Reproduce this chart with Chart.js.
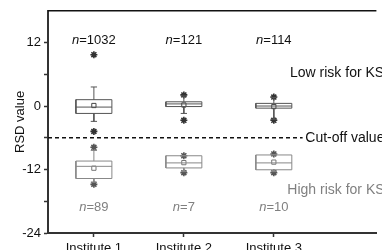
<!DOCTYPE html>
<html>
<head>
<meta charset="utf-8">
<script src="https://cdn.jsdelivr.net/npm/chart.js@4.4.1/dist/chart.umd.min.js"></script>
<style>
  html, body { margin: 0; padding: 0; background: #fff; overflow: hidden; }
  #wrap { width: 382px; height: 250px; }
</style>
</head>
<body>
<div id="wrap"><canvas id="c" width="382" height="250"></canvas></div>
<script>
const institutes = ['Institute 1', 'Institute 2', 'Institute 3'];
const yTicks = [-24, -18, -12, -6, 0, 6, 12];
const cutOff = -6;

// low risk group (above cut-off)
const lowWhiskerLo = [-2.9, -1.4, -2.5];
const lowQ1 = [-1.4, -0.1, -0.4];
const lowMedian = [-0.2, 0.4, 0];
const lowQ3 = [1.2, 0.8, 0.5];
const lowWhiskerHi = [3.6, 1.9, 1.6];
const lowMean = [0.1, 0.2, -0.1];
const lowOutliers = [[9.7, -4.8], [2.1, -2.7], [1.7, -2.7]];
const lowN = ['1032', '121', '114'];

// high risk group (below cut-off)
const highWhiskerLo = [-14.4, -12.4, -12.4];
const highQ1 = [-13.7, -11.7, -12.05];
const highMedian = [-11.4, -10.75, -10.75];
const highQ3 = [-10.4, -9.4, -9.25];
const highWhiskerHi = [-8.4, -9.4, -9.2];
const highMean = [-11.75, -10.7, -10.6];
const highOutliers = [[-7.8, -14.8], [-9.4, -12.6], [-9.06, -12.6]];
const highN = ['89', '7', '10'];

const FONT = 'Liberation Sans, Arial, sans-serif';
const HW = 0.2;   // half box width (x units)
const CW = 0.035; // half cap width

function boxSegments(lo, q1, med, q3, hi) {
  const pts = [];
  const gap = (x) => pts.push({ x: x, y: null });
  institutes.forEach((name, i) => {
    const x = i + 1;
    pts.push({ x: x - HW, y: q1[i] }, { x: x + HW, y: q1[i] }, { x: x + HW, y: q3[i] },
      { x: x - HW, y: q3[i] }, { x: x - HW, y: q1[i] });
    gap(x);
    pts.push({ x: x - HW, y: med[i] }, { x: x + HW, y: med[i] });
    gap(x);
    pts.push({ x: x, y: q3[i] }, { x: x, y: hi[i] });
    gap(x);
    pts.push({ x: x - CW, y: hi[i] }, { x: x + CW, y: hi[i] });
    gap(x);
    pts.push({ x: x, y: q1[i] }, { x: x, y: lo[i] });
    gap(x);
    pts.push({ x: x - CW, y: lo[i] }, { x: x + CW, y: lo[i] });
    gap(x);
  });
  return pts;
}

function outlierPoints(list) {
  const pts = [];
  list.forEach((vals, i) => vals.forEach(v => pts.push({ x: i + 1, y: v })));
  return pts;
}

function meanPoints(vals) {
  return vals.map((v, i) => ({ x: i + 1, y: v }));
}

const lineDs = (data, color) => ({
  type: 'scatter', data, showLine: true, spanGaps: false,
  borderColor: color, borderWidth: 1, pointRadius: 0, fill: false
});
const starDs = (data, color) => ({
  type: 'scatter', data, pointStyle: 'star', pointRadius: 3.5,
  borderColor: color, backgroundColor: color, borderWidth: 1.6
});
const meanDs = (data, color) => ({
  type: 'scatter', data, pointStyle: 'rect', pointRadius: 3,
  borderColor: color, backgroundColor: '#fff', borderWidth: 1
});

const textPlugin = {
  id: 'texts',
  afterDatasetsDraw(chart) {
    const ctx = chart.ctx;
    const xs = chart.scales.x, ys = chart.scales.y;
    const area = chart.chartArea;
    ctx.save();
    // top frame line
    ctx.strokeStyle = '#111';
    ctx.lineWidth = 1.5;
    ctx.beginPath();
    ctx.moveTo(area.left, area.top);
    ctx.lineTo(area.right, area.top);
    ctx.stroke();

    const nLabel = (count, i, yv, color) => {
      ctx.fillStyle = color;
      ctx.textBaseline = 'middle';
      ctx.textAlign = 'left';
      ctx.font = 'italic 13px ' + FONT;
      const w1 = ctx.measureText('n').width;
      ctx.font = '13px ' + FONT;
      const rest = '=' + count;
      const w2 = ctx.measureText(rest).width;
      const cx = xs.getPixelForValue(i + 1);
      const y = ys.getPixelForValue(yv);
      const x0 = cx - (w1 + w2) / 2;
      ctx.font = 'italic 13px ' + FONT;
      ctx.fillText('n', x0, y);
      ctx.font = '13px ' + FONT;
      ctx.fillText(rest, x0 + w1, y);
    };
    lowN.forEach((n, i) => nLabel(n, i, 12.4, '#111'));
    highN.forEach((n, i) => nLabel(n, i, -19.1, '#808080'));

    ctx.font = '14px ' + FONT;
    ctx.textAlign = 'left';
    ctx.textBaseline = 'middle';
    ctx.fillStyle = '#111';
    ctx.fillText('Low risk for KS', xs.getPixelForValue(3.18), ys.getPixelForValue(6.2));
    ctx.fillText('Cut-off value', xs.getPixelForValue(3.35), ys.getPixelForValue(cutOff));
    ctx.fillStyle = '#808080';
    ctx.fillText('High risk for KS', xs.getPixelForValue(3.15), ys.getPixelForValue(-15.9));
    ctx.restore();
  }
};

const datasets = [
  {
    type: 'scatter',
    data: [{ x: 0.49, y: cutOff }, { x: 3.32, y: cutOff }],
    showLine: true, borderColor: '#111', borderWidth: 1.5, borderDash: [4, 3], pointRadius: 0
  },
  lineDs(boxSegments(lowWhiskerLo, lowQ1, lowMedian, lowQ3, lowWhiskerHi), '#555'),
  lineDs(boxSegments(highWhiskerLo, highQ1, highMedian, highQ3, highWhiskerHi), '#888'),
  meanDs(meanPoints(lowMean), '#444'),
  meanDs(meanPoints(highMean), '#777'),
  starDs(outlierPoints(lowOutliers), '#333'),
  starDs(outlierPoints(highOutliers), '#555')
];

new Chart(document.getElementById('c'), {
  type: 'scatter',
  data: { datasets },
  plugins: [textPlugin],
  options: {
    responsive: false,
    animation: false,
    events: [],
    layout: { padding: { top: 10, right: 0, bottom: 0, left: 0 } },
    plugins: { legend: { display: false }, tooltip: { enabled: false } },
    scales: {
      x: {
        type: 'linear', min: 0.49, max: 4.14,
        afterBuildTicks: (s) => { s.ticks = institutes.map((n, i) => ({ value: i + 1 })); },
        afterFit: (s) => { s.height = 17; },
        grid: { drawOnChartArea: false, drawTicks: true, tickLength: 4, tickColor: '#333', tickWidth: 1.5 },
        border: { display: true, color: '#333', width: 2 },
        ticks: {
          color: '#111', padding: 4, maxRotation: 0, autoSkip: false,
          font: { family: FONT, size: 13 },
          callback: (v) => institutes[Math.round(v) - 1] || ''
        }
      },
      y: {
        min: -24, max: 18,
        afterBuildTicks: (s) => { s.ticks = yTicks.map(v => ({ value: v })); },
        afterFit: (s) => { s.width = 48; },
        grid: { drawOnChartArea: false, drawTicks: true, tickLength: 4, tickColor: '#333', tickWidth: 1.5 },
        border: { display: true, color: '#333', width: 2 },
        ticks: {
          color: '#111', padding: 3, autoSkip: false,
          font: { family: FONT, size: 13 },
          callback: (v) => (v % 12 === 0 ? String(v) : '')
        },
        title: {
          display: true, text: 'RSD value', color: '#111',
          font: { family: FONT, size: 13 },
          padding: { top: 13, bottom: 0 }
        }
      }
    }
  }
});
</script>
</body>
</html>
